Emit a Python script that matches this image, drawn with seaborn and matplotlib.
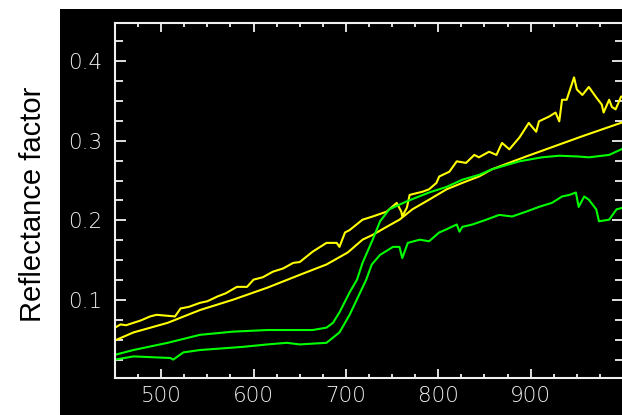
import matplotlib
matplotlib.use("Agg")
import matplotlib.pyplot as plt
from matplotlib.patches import Rectangle
from matplotlib.ticker import MultipleLocator
import seaborn as sns

sns.set_theme(style="ticks")

# wavelength (nm) / reflectance
wl_yellow_upper = [450, 456, 462, 470, 478, 488, 495, 515, 518, 521, 530, 542, 550, 561, 570,
                   582, 593, 600, 610, 621, 632, 643, 650, 664, 679, 690, 693, 699, 704, 718,
                   729, 744, 755, 760, 761, 766, 769, 783, 790, 798, 801, 812, 820, 830, 839,
                   844, 855, 863, 869, 877, 888, 898, 906, 909, 920, 927, 931, 934, 939, 947,
                   950, 956, 963, 971, 977, 979, 985, 988, 992, 998, 1000]
refl_yellow_upper = [0.066, 0.070, 0.069, 0.072, 0.075, 0.080, 0.082, 0.080, 0.085, 0.090, 0.092,
                     0.097, 0.099, 0.105, 0.109, 0.117, 0.117, 0.126, 0.129, 0.136, 0.140, 0.147,
                     0.148, 0.161, 0.172, 0.172, 0.167, 0.185, 0.188, 0.201, 0.205, 0.211, 0.222,
                     0.211, 0.205, 0.216, 0.232, 0.236, 0.239, 0.247, 0.255, 0.261, 0.274, 0.272,
                     0.282, 0.279, 0.286, 0.282, 0.297, 0.289, 0.304, 0.322, 0.311, 0.324, 0.330,
                     0.335, 0.324, 0.351, 0.351, 0.379, 0.364, 0.357, 0.367, 0.354, 0.345, 0.335,
                     0.351, 0.342, 0.339, 0.355, 0.355]

wl_yellow_lower = [450, 470, 507, 542, 578, 615, 650, 679, 702, 718, 729, 744, 758, 772, 790,
                   809, 826, 844, 858, 895, 931, 955, 1000]
refl_yellow_lower = [0.050, 0.060, 0.072, 0.088, 0.101, 0.116, 0.132, 0.145, 0.160, 0.176, 0.182,
                     0.192, 0.201, 0.214, 0.226, 0.239, 0.247, 0.255, 0.264, 0.280, 0.295, 0.305,
                     0.323]

wl_green_upper = [450, 470, 507, 542, 578, 615, 664, 679, 686, 693, 704, 712, 718, 729, 737,
                  747, 766, 790, 809, 826, 844, 858, 888, 912, 931, 952, 963, 985, 1000]
refl_green_upper = [0.032, 0.038, 0.047, 0.057, 0.061, 0.063, 0.063, 0.066, 0.072, 0.085, 0.110,
                    0.126, 0.147, 0.176, 0.199, 0.214, 0.224, 0.235, 0.242, 0.251, 0.257, 0.264,
                    0.274, 0.279, 0.281, 0.280, 0.279, 0.282, 0.290]

wl_green_lower = [450, 470, 510, 513, 524, 542, 589, 615, 636, 650, 679, 693, 704, 722, 728,
                  737, 751, 758, 761, 767, 780, 790, 801, 809, 820, 823, 826, 837, 852, 866,
                  880, 895, 909, 923, 934, 942, 949, 952, 958, 963, 971, 974, 985, 993, 1000]
refl_green_lower = [0.026, 0.030, 0.028, 0.026, 0.035, 0.038, 0.042, 0.045, 0.047, 0.045, 0.047,
                    0.060, 0.082, 0.126, 0.145, 0.157, 0.167, 0.167, 0.153, 0.172, 0.176, 0.174,
                    0.185, 0.189, 0.195, 0.186, 0.192, 0.195, 0.201, 0.207, 0.205, 0.211, 0.217,
                    0.222, 0.230, 0.232, 0.235, 0.217, 0.230, 0.226, 0.214, 0.199, 0.201, 0.214,
                    0.216]

x_ticks = [500, 600, 700, 800, 900]
y_ticks = [0.1, 0.2, 0.3, 0.4]

fig = plt.figure(figsize=(6.22, 4.15), dpi=100, facecolor="white")
fig.patches.append(Rectangle((60 / 622, 0), 1, 406 / 415, transform=fig.transFigure,
                             facecolor="black", edgecolor="none", zorder=-1))

ax = fig.add_axes([115 / 622, 37 / 415, 508 / 622, 355 / 415])
ax.set_facecolor("black")

for wl, refl, col in [(wl_yellow_upper, refl_yellow_upper, "#ffff00"),
                      (wl_yellow_lower, refl_yellow_lower, "#ffff00"),
                      (wl_green_upper, refl_green_upper, "#00ff00"),
                      (wl_green_lower, refl_green_lower, "#00ff00")]:
    sns.lineplot(x=wl, y=refl, color=col, lw=1.5, estimator=None, ax=ax)

ax.set_xlim(450, 1000)
ax.set_ylim(0.003, 0.447)
ax.set_xticks(x_ticks)
ax.set_yticks(y_ticks)
ax.xaxis.set_minor_locator(MultipleLocator(25))
ax.yaxis.set_minor_locator(MultipleLocator(0.025))

for s in ax.spines.values():
    s.set_color("#f0f0f0")
    s.set_linewidth(1.5)

ax.tick_params(axis="both", which="both", direction="in", color="#f0f0f0",
               top=True, right=True, width=1.3, labelcolor="#f0f0f0", labelsize=15.5)
ax.tick_params(axis="x", which="major", length=6.5, pad=6)
ax.tick_params(axis="x", which="minor", length=3)
ax.tick_params(axis="y", which="major", length=8, pad=9)
ax.tick_params(axis="y", which="minor", length=5.5)
for lab in ax.get_xticklabels() + ax.get_yticklabels():
    lab.set_fontweight("light")

fig.text(33 / 622, 1 - 204 / 415, "Reflectance factor", rotation=90, fontsize=21,
         family="Liberation Sans", ha="center", va="center", color="black")

fig.savefig("out.png", dpi=100, facecolor="white")
